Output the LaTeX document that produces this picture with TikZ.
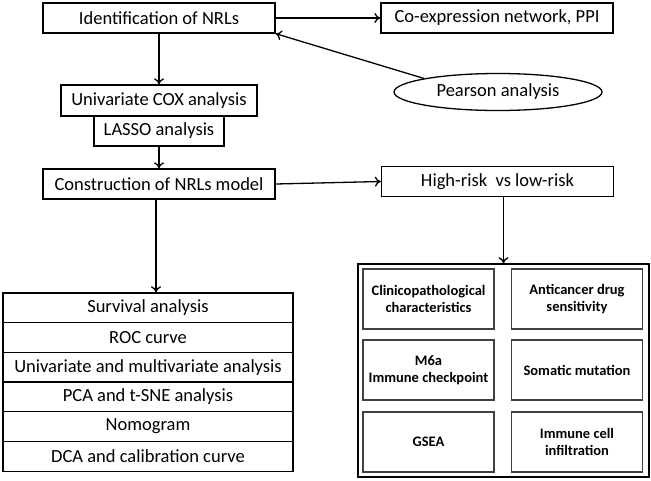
\documentclass[tikz,border=0pt]{standalone}
\usepackage{fontspec}
\setmainfont{Carlito}
\usetikzlibrary{arrows.meta,shapes.geometric}

\begin{document}
\begin{tikzpicture}[x=1pt,y=-1pt,
    >={To[length=6pt,width=10pt]},
    line width=1.3pt,
    box/.style={draw,inner sep=0pt,minimum height=30pt,font=\fontsize{18.5}{22}\selectfont},
    row/.style={box,minimum width=290pt,minimum height=29.7pt},
    cell/.style={draw=black!75,line width=1.5pt,inner sep=0pt,align=center,
        minimum width=131pt,minimum height=60pt,font=\fontsize{14.5}{17.5}\selectfont\bfseries}]
        \useasboundingbox (0,0) rectangle (651,480);

        \node[box,minimum width=232pt] (ident) at (159,18) {Identification of NRLs};
        \node[box,minimum width=232pt] (coexp) at (497,18) {Co-expression network, PPI};
        \node[box,ellipse,minimum width=208pt,minimum height=37pt] (pear) at (498,92) {Pearson analysis};
        \node[box,minimum width=196pt,minimum height=31pt] (unicox) at (159,100.5) {Univariate COX analysis};
        \node[box,minimum width=130pt] (lasso) at (159,131) {LASSO analysis};
        \node[box,minimum width=232pt] (constr) at (159,184) {Construction of NRLs model};
        \node[box,minimum width=232pt] (hr) at (497.5,181.5) {High-risk\ \ vs low-risk};

        \foreach \txt [count=\i from 0] in {Survival analysis, ROC curve,
            Univariate and multivariate analysis, PCA and t-SNE analysis,
            Nomogram, DCA and calibration curve}
            \node[row] (r\i) at (148,{307.8+29.7*\i}) {\txt};

        \node[draw,line width=1.6pt,inner sep=0pt,minimum width=291pt,minimum height=213pt] (res) at (503.5,370.5) {};
        \node[cell] (clin) at (428.5,299) {Clinicopathological\\characteristics};
        \node[cell] (drug) at (577,299) {Anticancer drug\\sensitivity};
        \node[cell] (m6a) at (428.5,370) {M6a\\Immune checkpoint};
        \node[cell] (soma) at (577,370) {Somatic mutation};
        \node[cell] (gsea) at (428.5,442) {GSEA};
        \node[cell] (immu) at (577,442) {Immune cell\\infiltration};

        \draw[->] (ident.east) -- (coexp.west);
        \draw[->] (pear.north west) -- (ident.south east);
        \draw[->] (ident) -- (unicox);
        \draw[->] (lasso) -- (constr);
        \draw[->] (constr.east) -- (hr.west);
        \draw[->] ([xshift=-3pt]constr.south) -- ([xshift=-3pt]constr.south |- r0.north);
        \draw[->] (hr.south -| res.north) -- (res.north);
    \end{tikzpicture}
\end{document}
